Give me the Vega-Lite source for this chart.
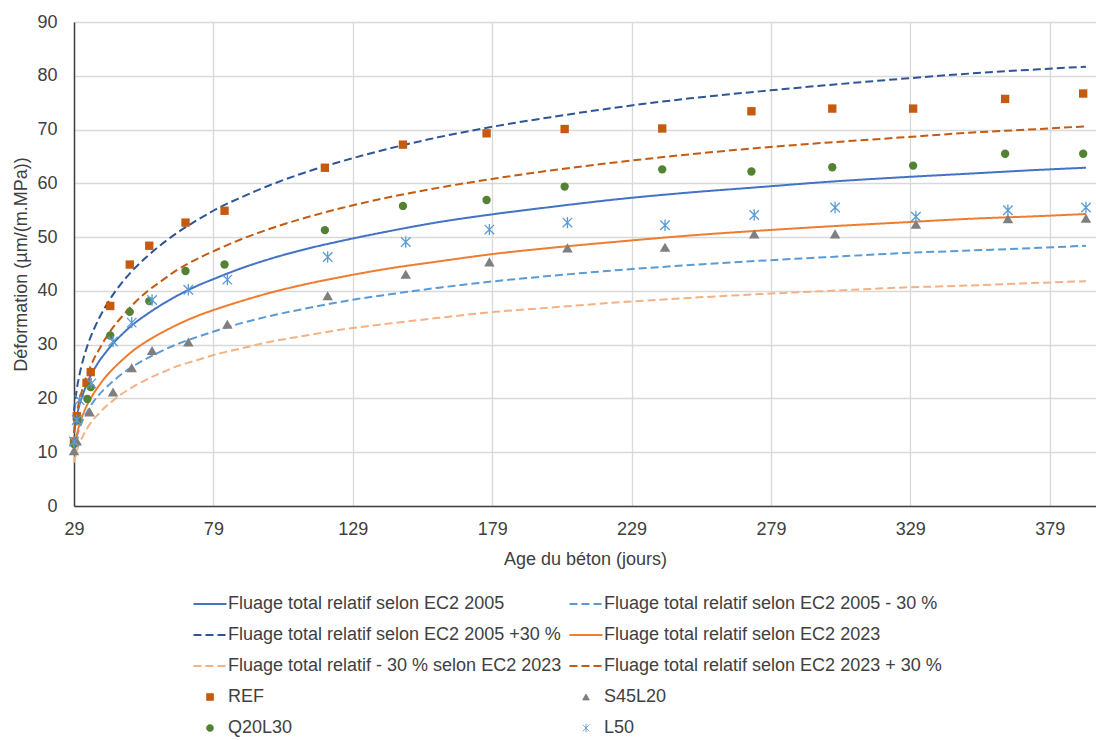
{
  "$schema": "https://vega.github.io/schema/vega-lite/v6.json",
  "width": 1022,
  "height": 484,
  "autosize": {"type": "none"},
  "padding": {"left": 74, "top": 22, "right": 0, "bottom": 234},
  "background": "white",
  "config": {
    "view": {"stroke": null},
    "font": "Liberation Sans",
    "axis": {
      "gridColor": "#d9d9d9", "gridWidth": 1.3,
      "domainColor": "#404040", "domainWidth": 1.5,
      "ticks": false, "labelFlush": false,
      "labelFontSize": 18, "labelColor": "#404040",
      "titleFontSize": 18, "titleFontWeight": "normal", "titleColor": "#404040"
    }
  },
  "datasets": {
    "curves": [
      {"s":"Fluage total relatif selon EC2 2005","x":29,"y":13.6},{"s":"Fluage total relatif selon EC2 2005","x":30,"y":16.7},{"s":"Fluage total relatif selon EC2 2005","x":31,"y":18.9},{"s":"Fluage total relatif selon EC2 2005","x":32,"y":20.5},{"s":"Fluage total relatif selon EC2 2005","x":33,"y":21.9},{"s":"Fluage total relatif selon EC2 2005","x":34,"y":23.2},{"s":"Fluage total relatif selon EC2 2005","x":36,"y":25.2},{"s":"Fluage total relatif selon EC2 2005","x":38,"y":26.9},{"s":"Fluage total relatif selon EC2 2005","x":40,"y":28.3},{"s":"Fluage total relatif selon EC2 2005","x":43,"y":30.2},{"s":"Fluage total relatif selon EC2 2005","x":46,"y":31.8},{"s":"Fluage total relatif selon EC2 2005","x":50,"y":33.7},{"s":"Fluage total relatif selon EC2 2005","x":55,"y":35.6},{"s":"Fluage total relatif selon EC2 2005","x":60,"y":37.3},{"s":"Fluage total relatif selon EC2 2005","x":66,"y":39.1},{"s":"Fluage total relatif selon EC2 2005","x":73,"y":40.9},{"s":"Fluage total relatif selon EC2 2005","x":80,"y":42.4},{"s":"Fluage total relatif selon EC2 2005","x":89,"y":44.2},{"s":"Fluage total relatif selon EC2 2005","x":99,"y":45.9},{"s":"Fluage total relatif selon EC2 2005","x":110,"y":47.5},{"s":"Fluage total relatif selon EC2 2005","x":125,"y":49.3},{"s":"Fluage total relatif selon EC2 2005","x":140,"y":50.9},{"s":"Fluage total relatif selon EC2 2005","x":160,"y":52.8},{"s":"Fluage total relatif selon EC2 2005","x":180,"y":54.3},{"s":"Fluage total relatif selon EC2 2005","x":200,"y":55.6},{"s":"Fluage total relatif selon EC2 2005","x":225,"y":57.1},{"s":"Fluage total relatif selon EC2 2005","x":250,"y":58.3},{"s":"Fluage total relatif selon EC2 2005","x":275,"y":59.3},{"s":"Fluage total relatif selon EC2 2005","x":300,"y":60.3},{"s":"Fluage total relatif selon EC2 2005","x":325,"y":61.1},{"s":"Fluage total relatif selon EC2 2005","x":350,"y":61.8},{"s":"Fluage total relatif selon EC2 2005","x":375,"y":62.5},{"s":"Fluage total relatif selon EC2 2005","x":392,"y":62.9},
      {"s":"Fluage total relatif selon EC2 2005 - 30 %","x":29,"y":10.5},{"s":"Fluage total relatif selon EC2 2005 - 30 %","x":30,"y":12.9},{"s":"Fluage total relatif selon EC2 2005 - 30 %","x":31,"y":14.5},{"s":"Fluage total relatif selon EC2 2005 - 30 %","x":32,"y":15.8},{"s":"Fluage total relatif selon EC2 2005 - 30 %","x":33,"y":16.9},{"s":"Fluage total relatif selon EC2 2005 - 30 %","x":34,"y":17.8},{"s":"Fluage total relatif selon EC2 2005 - 30 %","x":36,"y":19.4},{"s":"Fluage total relatif selon EC2 2005 - 30 %","x":38,"y":20.7},{"s":"Fluage total relatif selon EC2 2005 - 30 %","x":40,"y":21.8},{"s":"Fluage total relatif selon EC2 2005 - 30 %","x":43,"y":23.2},{"s":"Fluage total relatif selon EC2 2005 - 30 %","x":46,"y":24.5},{"s":"Fluage total relatif selon EC2 2005 - 30 %","x":50,"y":25.9},{"s":"Fluage total relatif selon EC2 2005 - 30 %","x":55,"y":27.4},{"s":"Fluage total relatif selon EC2 2005 - 30 %","x":60,"y":28.7},{"s":"Fluage total relatif selon EC2 2005 - 30 %","x":66,"y":30.1},{"s":"Fluage total relatif selon EC2 2005 - 30 %","x":73,"y":31.4},{"s":"Fluage total relatif selon EC2 2005 - 30 %","x":80,"y":32.6},{"s":"Fluage total relatif selon EC2 2005 - 30 %","x":89,"y":34.0},{"s":"Fluage total relatif selon EC2 2005 - 30 %","x":99,"y":35.3},{"s":"Fluage total relatif selon EC2 2005 - 30 %","x":110,"y":36.5},{"s":"Fluage total relatif selon EC2 2005 - 30 %","x":125,"y":38.0},{"s":"Fluage total relatif selon EC2 2005 - 30 %","x":140,"y":39.2},{"s":"Fluage total relatif selon EC2 2005 - 30 %","x":160,"y":40.6},{"s":"Fluage total relatif selon EC2 2005 - 30 %","x":180,"y":41.8},{"s":"Fluage total relatif selon EC2 2005 - 30 %","x":200,"y":42.8},{"s":"Fluage total relatif selon EC2 2005 - 30 %","x":225,"y":43.9},{"s":"Fluage total relatif selon EC2 2005 - 30 %","x":250,"y":44.8},{"s":"Fluage total relatif selon EC2 2005 - 30 %","x":275,"y":45.6},{"s":"Fluage total relatif selon EC2 2005 - 30 %","x":300,"y":46.3},{"s":"Fluage total relatif selon EC2 2005 - 30 %","x":325,"y":47.0},{"s":"Fluage total relatif selon EC2 2005 - 30 %","x":350,"y":47.5},{"s":"Fluage total relatif selon EC2 2005 - 30 %","x":375,"y":48.0},{"s":"Fluage total relatif selon EC2 2005 - 30 %","x":392,"y":48.4},
      {"s":"Fluage total relatif selon EC2 2005 +30 %","x":29,"y":17.7},{"s":"Fluage total relatif selon EC2 2005 +30 %","x":30,"y":21.7},{"s":"Fluage total relatif selon EC2 2005 +30 %","x":31,"y":24.5},{"s":"Fluage total relatif selon EC2 2005 +30 %","x":32,"y":26.7},{"s":"Fluage total relatif selon EC2 2005 +30 %","x":33,"y":28.5},{"s":"Fluage total relatif selon EC2 2005 +30 %","x":34,"y":30.1},{"s":"Fluage total relatif selon EC2 2005 +30 %","x":36,"y":32.7},{"s":"Fluage total relatif selon EC2 2005 +30 %","x":38,"y":34.9},{"s":"Fluage total relatif selon EC2 2005 +30 %","x":40,"y":36.8},{"s":"Fluage total relatif selon EC2 2005 +30 %","x":43,"y":39.3},{"s":"Fluage total relatif selon EC2 2005 +30 %","x":46,"y":41.4},{"s":"Fluage total relatif selon EC2 2005 +30 %","x":50,"y":43.8},{"s":"Fluage total relatif selon EC2 2005 +30 %","x":55,"y":46.3},{"s":"Fluage total relatif selon EC2 2005 +30 %","x":60,"y":48.5},{"s":"Fluage total relatif selon EC2 2005 +30 %","x":66,"y":50.8},{"s":"Fluage total relatif selon EC2 2005 +30 %","x":73,"y":53.1},{"s":"Fluage total relatif selon EC2 2005 +30 %","x":80,"y":55.2},{"s":"Fluage total relatif selon EC2 2005 +30 %","x":89,"y":57.4},{"s":"Fluage total relatif selon EC2 2005 +30 %","x":99,"y":59.6},{"s":"Fluage total relatif selon EC2 2005 +30 %","x":110,"y":61.7},{"s":"Fluage total relatif selon EC2 2005 +30 %","x":125,"y":64.1},{"s":"Fluage total relatif selon EC2 2005 +30 %","x":140,"y":66.2},{"s":"Fluage total relatif selon EC2 2005 +30 %","x":160,"y":68.6},{"s":"Fluage total relatif selon EC2 2005 +30 %","x":180,"y":70.6},{"s":"Fluage total relatif selon EC2 2005 +30 %","x":200,"y":72.3},{"s":"Fluage total relatif selon EC2 2005 +30 %","x":225,"y":74.2},{"s":"Fluage total relatif selon EC2 2005 +30 %","x":250,"y":75.8},{"s":"Fluage total relatif selon EC2 2005 +30 %","x":275,"y":77.1},{"s":"Fluage total relatif selon EC2 2005 +30 %","x":300,"y":78.3},{"s":"Fluage total relatif selon EC2 2005 +30 %","x":325,"y":79.4},{"s":"Fluage total relatif selon EC2 2005 +30 %","x":350,"y":80.4},{"s":"Fluage total relatif selon EC2 2005 +30 %","x":375,"y":81.2},{"s":"Fluage total relatif selon EC2 2005 +30 %","x":392,"y":81.7},
      {"s":"Fluage total relatif selon EC2 2023","x":29,"y":10.5},{"s":"Fluage total relatif selon EC2 2023","x":30,"y":13.2},{"s":"Fluage total relatif selon EC2 2023","x":31,"y":15.2},{"s":"Fluage total relatif selon EC2 2023","x":32,"y":16.7},{"s":"Fluage total relatif selon EC2 2023","x":33,"y":18.0},{"s":"Fluage total relatif selon EC2 2023","x":34,"y":19.1},{"s":"Fluage total relatif selon EC2 2023","x":36,"y":20.9},{"s":"Fluage total relatif selon EC2 2023","x":38,"y":22.4},{"s":"Fluage total relatif selon EC2 2023","x":40,"y":23.8},{"s":"Fluage total relatif selon EC2 2023","x":43,"y":25.5},{"s":"Fluage total relatif selon EC2 2023","x":46,"y":27.0},{"s":"Fluage total relatif selon EC2 2023","x":50,"y":28.8},{"s":"Fluage total relatif selon EC2 2023","x":55,"y":30.6},{"s":"Fluage total relatif selon EC2 2023","x":60,"y":32.1},{"s":"Fluage total relatif selon EC2 2023","x":66,"y":33.7},{"s":"Fluage total relatif selon EC2 2023","x":73,"y":35.3},{"s":"Fluage total relatif selon EC2 2023","x":80,"y":36.6},{"s":"Fluage total relatif selon EC2 2023","x":89,"y":38.1},{"s":"Fluage total relatif selon EC2 2023","x":99,"y":39.6},{"s":"Fluage total relatif selon EC2 2023","x":110,"y":41.0},{"s":"Fluage total relatif selon EC2 2023","x":125,"y":42.6},{"s":"Fluage total relatif selon EC2 2023","x":140,"y":44.0},{"s":"Fluage total relatif selon EC2 2023","x":160,"y":45.5},{"s":"Fluage total relatif selon EC2 2023","x":180,"y":46.9},{"s":"Fluage total relatif selon EC2 2023","x":200,"y":48.0},{"s":"Fluage total relatif selon EC2 2023","x":225,"y":49.2},{"s":"Fluage total relatif selon EC2 2023","x":250,"y":50.3},{"s":"Fluage total relatif selon EC2 2023","x":275,"y":51.2},{"s":"Fluage total relatif selon EC2 2023","x":300,"y":52.0},{"s":"Fluage total relatif selon EC2 2023","x":325,"y":52.7},{"s":"Fluage total relatif selon EC2 2023","x":350,"y":53.4},{"s":"Fluage total relatif selon EC2 2023","x":375,"y":53.9},{"s":"Fluage total relatif selon EC2 2023","x":392,"y":54.3},
      {"s":"Fluage total relatif - 30 % selon EC2 2023","x":29,"y":8.1},{"s":"Fluage total relatif - 30 % selon EC2 2023","x":30,"y":10.2},{"s":"Fluage total relatif - 30 % selon EC2 2023","x":31,"y":11.7},{"s":"Fluage total relatif - 30 % selon EC2 2023","x":32,"y":12.8},{"s":"Fluage total relatif - 30 % selon EC2 2023","x":33,"y":13.8},{"s":"Fluage total relatif - 30 % selon EC2 2023","x":34,"y":14.7},{"s":"Fluage total relatif - 30 % selon EC2 2023","x":36,"y":16.1},{"s":"Fluage total relatif - 30 % selon EC2 2023","x":38,"y":17.2},{"s":"Fluage total relatif - 30 % selon EC2 2023","x":40,"y":18.3},{"s":"Fluage total relatif - 30 % selon EC2 2023","x":43,"y":19.6},{"s":"Fluage total relatif - 30 % selon EC2 2023","x":46,"y":20.8},{"s":"Fluage total relatif - 30 % selon EC2 2023","x":50,"y":22.1},{"s":"Fluage total relatif - 30 % selon EC2 2023","x":55,"y":23.5},{"s":"Fluage total relatif - 30 % selon EC2 2023","x":60,"y":24.7},{"s":"Fluage total relatif - 30 % selon EC2 2023","x":66,"y":26.0},{"s":"Fluage total relatif - 30 % selon EC2 2023","x":73,"y":27.1},{"s":"Fluage total relatif - 30 % selon EC2 2023","x":80,"y":28.2},{"s":"Fluage total relatif - 30 % selon EC2 2023","x":89,"y":29.3},{"s":"Fluage total relatif - 30 % selon EC2 2023","x":99,"y":30.5},{"s":"Fluage total relatif - 30 % selon EC2 2023","x":110,"y":31.5},{"s":"Fluage total relatif - 30 % selon EC2 2023","x":125,"y":32.8},{"s":"Fluage total relatif - 30 % selon EC2 2023","x":140,"y":33.8},{"s":"Fluage total relatif - 30 % selon EC2 2023","x":160,"y":35.0},{"s":"Fluage total relatif - 30 % selon EC2 2023","x":180,"y":36.1},{"s":"Fluage total relatif - 30 % selon EC2 2023","x":200,"y":36.9},{"s":"Fluage total relatif - 30 % selon EC2 2023","x":225,"y":37.9},{"s":"Fluage total relatif - 30 % selon EC2 2023","x":250,"y":38.7},{"s":"Fluage total relatif - 30 % selon EC2 2023","x":275,"y":39.4},{"s":"Fluage total relatif - 30 % selon EC2 2023","x":300,"y":40.0},{"s":"Fluage total relatif - 30 % selon EC2 2023","x":325,"y":40.6},{"s":"Fluage total relatif - 30 % selon EC2 2023","x":350,"y":41.0},{"s":"Fluage total relatif - 30 % selon EC2 2023","x":375,"y":41.5},{"s":"Fluage total relatif - 30 % selon EC2 2023","x":392,"y":41.8},
      {"s":"Fluage total relatif selon EC2 2023 + 30 %","x":29,"y":13.7},{"s":"Fluage total relatif selon EC2 2023 + 30 %","x":30,"y":17.2},{"s":"Fluage total relatif selon EC2 2023 + 30 %","x":31,"y":19.8},{"s":"Fluage total relatif selon EC2 2023 + 30 %","x":32,"y":21.7},{"s":"Fluage total relatif selon EC2 2023 + 30 %","x":33,"y":23.4},{"s":"Fluage total relatif selon EC2 2023 + 30 %","x":34,"y":24.8},{"s":"Fluage total relatif selon EC2 2023 + 30 %","x":36,"y":27.2},{"s":"Fluage total relatif selon EC2 2023 + 30 %","x":38,"y":29.1},{"s":"Fluage total relatif selon EC2 2023 + 30 %","x":40,"y":30.9},{"s":"Fluage total relatif selon EC2 2023 + 30 %","x":43,"y":33.2},{"s":"Fluage total relatif selon EC2 2023 + 30 %","x":46,"y":35.1},{"s":"Fluage total relatif selon EC2 2023 + 30 %","x":50,"y":37.4},{"s":"Fluage total relatif selon EC2 2023 + 30 %","x":55,"y":39.8},{"s":"Fluage total relatif selon EC2 2023 + 30 %","x":60,"y":41.7},{"s":"Fluage total relatif selon EC2 2023 + 30 %","x":66,"y":43.9},{"s":"Fluage total relatif selon EC2 2023 + 30 %","x":73,"y":45.9},{"s":"Fluage total relatif selon EC2 2023 + 30 %","x":80,"y":47.6},{"s":"Fluage total relatif selon EC2 2023 + 30 %","x":89,"y":49.6},{"s":"Fluage total relatif selon EC2 2023 + 30 %","x":99,"y":51.5},{"s":"Fluage total relatif selon EC2 2023 + 30 %","x":110,"y":53.3},{"s":"Fluage total relatif selon EC2 2023 + 30 %","x":125,"y":55.4},{"s":"Fluage total relatif selon EC2 2023 + 30 %","x":140,"y":57.2},{"s":"Fluage total relatif selon EC2 2023 + 30 %","x":160,"y":59.2},{"s":"Fluage total relatif selon EC2 2023 + 30 %","x":180,"y":60.9},{"s":"Fluage total relatif selon EC2 2023 + 30 %","x":200,"y":62.4},{"s":"Fluage total relatif selon EC2 2023 + 30 %","x":225,"y":64.0},{"s":"Fluage total relatif selon EC2 2023 + 30 %","x":250,"y":65.4},{"s":"Fluage total relatif selon EC2 2023 + 30 %","x":275,"y":66.6},{"s":"Fluage total relatif selon EC2 2023 + 30 %","x":300,"y":67.6},{"s":"Fluage total relatif selon EC2 2023 + 30 %","x":325,"y":68.5},{"s":"Fluage total relatif selon EC2 2023 + 30 %","x":350,"y":69.4},{"s":"Fluage total relatif selon EC2 2023 + 30 %","x":375,"y":70.1},{"s":"Fluage total relatif selon EC2 2023 + 30 %","x":392,"y":70.6}
    ],
    "points": [
      {"s":"REF","x":29,"y":12.0},{"s":"REF","x":30,"y":16.7},{"s":"REF","x":33.5,"y":22.9},{"s":"REF","x":35,"y":24.9},{"s":"REF","x":42,"y":37.2},{"s":"REF","x":49,"y":44.9},{"s":"REF","x":56,"y":48.4},{"s":"REF","x":69,"y":52.7},{"s":"REF","x":83,"y":54.9},{"s":"REF","x":119,"y":62.9},{"s":"REF","x":147,"y":67.2},{"s":"REF","x":177,"y":69.3},{"s":"REF","x":205,"y":70.1},{"s":"REF","x":240,"y":70.2},{"s":"REF","x":272,"y":73.4},{"s":"REF","x":301,"y":73.9},{"s":"REF","x":330,"y":73.9},{"s":"REF","x":363,"y":75.7},{"s":"REF","x":391,"y":76.7},
      {"s":"S45L20","x":29,"y":10.3},{"s":"S45L20","x":30,"y":12.1},{"s":"S45L20","x":34.6,"y":17.5},{"s":"S45L20","x":43,"y":21.2},{"s":"S45L20","x":49.7,"y":25.7},{"s":"S45L20","x":57,"y":28.9},{"s":"S45L20","x":70,"y":30.5},{"s":"S45L20","x":84,"y":33.8},{"s":"S45L20","x":120,"y":39.1},{"s":"S45L20","x":148,"y":43.1},{"s":"S45L20","x":178,"y":45.4},{"s":"S45L20","x":206,"y":48.0},{"s":"S45L20","x":241,"y":48.1},{"s":"S45L20","x":273,"y":50.6},{"s":"S45L20","x":302,"y":50.6},{"s":"S45L20","x":331,"y":52.4},{"s":"S45L20","x":364,"y":53.4},{"s":"S45L20","x":392,"y":53.5},
      {"s":"Q20L30","x":29,"y":11.5},{"s":"Q20L30","x":30.2,"y":15.9},{"s":"Q20L30","x":33.8,"y":19.9},{"s":"Q20L30","x":35,"y":22.1},{"s":"Q20L30","x":42,"y":31.7},{"s":"Q20L30","x":49,"y":36.1},{"s":"Q20L30","x":56,"y":38.1},{"s":"Q20L30","x":69,"y":43.7},{"s":"Q20L30","x":83,"y":44.9},{"s":"Q20L30","x":119,"y":51.3},{"s":"Q20L30","x":147,"y":55.8},{"s":"Q20L30","x":177,"y":56.9},{"s":"Q20L30","x":205,"y":59.4},{"s":"Q20L30","x":240,"y":62.6},{"s":"Q20L30","x":272,"y":62.2},{"s":"Q20L30","x":301,"y":63.0},{"s":"Q20L30","x":330,"y":63.3},{"s":"Q20L30","x":363,"y":65.5},{"s":"Q20L30","x":391,"y":65.5},
      {"s":"L50","x":29,"y":12.0},{"s":"L50","x":30,"y":16.0},{"s":"L50","x":31,"y":19.7},{"s":"L50","x":35.2,"y":22.8},{"s":"L50","x":43,"y":30.6},{"s":"L50","x":49.7,"y":34.1},{"s":"L50","x":57,"y":38.3},{"s":"L50","x":70,"y":40.2},{"s":"L50","x":84,"y":42.1},{"s":"L50","x":120,"y":46.3},{"s":"L50","x":148,"y":49.1},{"s":"L50","x":178,"y":51.4},{"s":"L50","x":206,"y":52.7},{"s":"L50","x":241,"y":52.2},{"s":"L50","x":273,"y":54.1},{"s":"L50","x":302,"y":55.5},{"s":"L50","x":331,"y":53.8},{"s":"L50","x":364,"y":55.0},{"s":"L50","x":392,"y":55.5}
    ]
  },
  "encoding": {
    "x": {
      "field": "x", "type": "quantitative",
      "scale": {"domain": [29, 395.6], "nice": false, "zero": false},
      "axis": {"values": [29, 79, 129, 179, 229, 279, 329, 379], "title": "Age du béton (jours)", "labelPadding": 14, "titlePadding": 12}
    },
    "y": {
      "field": "y", "type": "quantitative",
      "scale": {"domain": [0, 90], "nice": false},
      "axis": {"values": [0, 10, 20, 30, 40, 50, 60, 70, 80, 90], "title": "Déformation (µm/(m.MPa))", "labelPadding": 17, "titlePadding": 6}
    }
  },
  "layer": [
    {
      "data": {"name": "curves"},
      "mark": {"type": "line", "strokeWidth": 2, "interpolate": "monotone"},
      "encoding": {
        "color": {
          "field": "s", "type": "nominal",
          "scale": {
            "domain": ["Fluage total relatif selon EC2 2005", "Fluage total relatif selon EC2 2005 - 30 %", "Fluage total relatif selon EC2 2005 +30 %", "Fluage total relatif selon EC2 2023", "Fluage total relatif - 30 % selon EC2 2023", "Fluage total relatif selon EC2 2023 + 30 %", "REF", "S45L20", "Q20L30", "L50"],
            "range": ["#4472C4", "#5B9BD5", "#2F5597", "#ED7D31", "#F4B183", "#C55A11", "#C55A11", "#7F7F7F", "#548235", "#5B9BD5"]
          },
          "legend": {
            "title": null,
            "orient": "none",
            "direction": "horizontal",
            "legendX": 127,
            "legendY": 573,
            "columns": 2,
            "columnPadding": 3,
            "rowPadding": 13,
            "labelOffset": 9,
            "symbolSize": 1089,
            "labelFontSize": 18,
            "labelColor": "#404040",
            "labelLimit": 500,
            "padding": 0,
            "encode": {
              "symbols": {
                "update": {
                  "shape": {"scale": "shape", "field": "value"},
                  "strokeDash": {"scale": "strokeDash", "field": "value"},
                  "fill": {"scale": "color", "field": "value"},
                  "stroke": {"scale": "color", "field": "value"},
                  "opacity": {"value": 1},
                  "size": {"signal": "indexof(['REF','S45L20','Q20L30','L50'], datum.value) >= 0 ? 45 : 1089"},
                  "strokeWidth": {"signal": "indexof(['REF','S45L20','Q20L30','L50'], datum.value) >= 0 ? 1 : 2"}
                }
              }
            }
          }
        },
        "strokeDash": {
          "field": "s", "type": "nominal",
          "scale": {
            "domain": ["Fluage total relatif selon EC2 2005", "Fluage total relatif selon EC2 2005 - 30 %", "Fluage total relatif selon EC2 2005 +30 %", "Fluage total relatif selon EC2 2023", "Fluage total relatif - 30 % selon EC2 2023", "Fluage total relatif selon EC2 2023 + 30 %", "REF", "S45L20", "Q20L30", "L50"],
            "range": [[1, 0], [8, 4], [8, 4], [1, 0], [8, 4], [8, 4], [1, 0], [1, 0], [1, 0], [1, 0]]
          },
          "legend": null
        }
      }
    },
    {
      "data": {"name": "points"},
      "transform": [{"filter": "datum.s == 'REF' || datum.s == 'Q20L30'"}],
      "mark": {"type": "point", "filled": true, "opacity": 1, "size": 70},
      "encoding": {
        "color": {"field": "s", "type": "nominal"},
        "shape": {
          "field": "s", "type": "nominal",
          "scale": {
            "domain": ["Fluage total relatif selon EC2 2005", "Fluage total relatif selon EC2 2005 - 30 %", "Fluage total relatif selon EC2 2005 +30 %", "Fluage total relatif selon EC2 2023", "Fluage total relatif - 30 % selon EC2 2023", "Fluage total relatif selon EC2 2023 + 30 %", "REF", "S45L20", "Q20L30", "L50"],
            "range": ["stroke", "stroke", "stroke", "stroke", "stroke", "stroke", "square", "triangle-up", "circle", "M-1,-1L1,1M1,-1L-1,1M0,-1.2L0,1.2"]
          },
          "legend": null
        }
      }
    },
    {
      "data": {"name": "points"},
      "transform": [{"filter": "datum.s == 'S45L20'"}],
      "mark": {"type": "point", "filled": true, "opacity": 1, "size": 110},
      "encoding": {
        "color": {"field": "s", "type": "nominal"},
        "shape": {"field": "s", "type": "nominal", "legend": null}
      }
    },
    {
      "data": {"name": "points"},
      "transform": [{"filter": "datum.s == 'L50'"}],
      "mark": {"type": "point", "filled": false, "opacity": 1, "size": 90, "strokeWidth": 1.3},
      "encoding": {
        "color": {"field": "s", "type": "nominal"},
        "shape": {"field": "s", "type": "nominal", "legend": null}
      }
    }
  ]
}
